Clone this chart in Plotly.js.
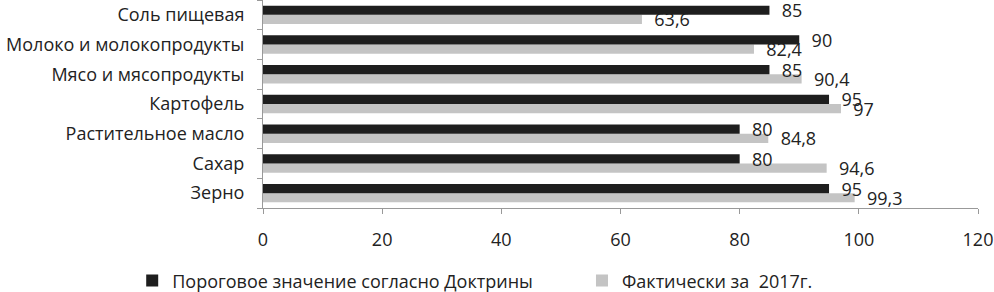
<!DOCTYPE html>
<html><head><meta charset="utf-8">
<script src="https://cdn.plot.ly/plotly-3.0.1.min.js"></script>
<style>html,body{margin:0;padding:0;background:#fff;}#c{width:994px;height:292px;}</style>
</head><body><div id="c"></div>
<script>
const categories = ["Зерно","Сахар","Растительное масло","Картофель","Мясо и мясопродукты","Молоко и молокопродукты","Соль пищевая"];
const threshold = [95, 80, 80, 95, 85, 90, 85];
const actual = [99.3, 94.6, 84.8, 97, 90.4, 82.4, 63.6];
const seriesNames = ["Пороговое значение согласно Доктрины", "Фактически за  2017г."];
const xTicks = [0, 20, 40, 60, 80, 100, 120];

const fmt = v => '\u00a0\u00a0' + String(v).replace('.', ',');
const F = "'Open Sans', sans-serif";

const traces = [
  {type:'bar', orientation:'h', y:categories, x:actual, name:seriesNames[1], legend:'legend2',
   marker:{color:'#c4c4c4'}, text:actual.map(fmt), textposition:'outside',
   textfont:{family:F, size:18, color:'#222'}, cliponaxis:false, constraintext:'none', hoverinfo:'none'},
  {type:'bar', orientation:'h', y:categories, x:threshold, name:seriesNames[0], legend:'legend',
   marker:{color:'#1e1e1e'}, text:threshold.map(fmt), textposition:'outside',
   textfont:{family:F, size:18, color:'#222'}, cliponaxis:false, constraintext:'none', hoverinfo:'none'}
];

const lg = (x) => ({orientation:'h', xref:'container', yref:'container', x:x, xanchor:'left', y:0.038, yanchor:'middle',
          font:{family:F, size:18, color:'#222'}, itemwidth:30, bgcolor:'rgba(0,0,0,0)'});

const layout = {
  width:994, height:292,
  margin:{l:263, r:16, t:0, b:84, autoexpand:false},
  barmode:'group', bargap:0.38, bargroupgap:0,
  font:{family:F, size:18, color:'#222'},
  plot_bgcolor:'#fff', paper_bgcolor:'#fff',
  showlegend:true,
  legend: lg(0.133),
  legend2: lg(0.5855),
  xaxis:{range:[0,120], tickvals:xTicks, ticktext:xTicks.map(String), showgrid:false, zeroline:false, automargin:false,
         showline:true, linecolor:'#999', linewidth:1, ticks:'outside', ticklen:5, tickcolor:'#999',
         tickfont:{family:F, size:18, color:'#222'}, ticklabelstandoff:10},
  yaxis:{type:'category', categoryorder:'array', categoryarray:categories, showgrid:false, zeroline:false, automargin:false,
         showline:true, linecolor:'#999', linewidth:1, ticks:'outside', ticklen:5, tickcolor:'#999',
         tickson:'boundaries', tickfont:{family:F, size:18, color:'#222'}, ticklabelstandoff:14}
};
Plotly.newPlot('c', traces, layout, {staticPlot:true});
</script></body></html>
